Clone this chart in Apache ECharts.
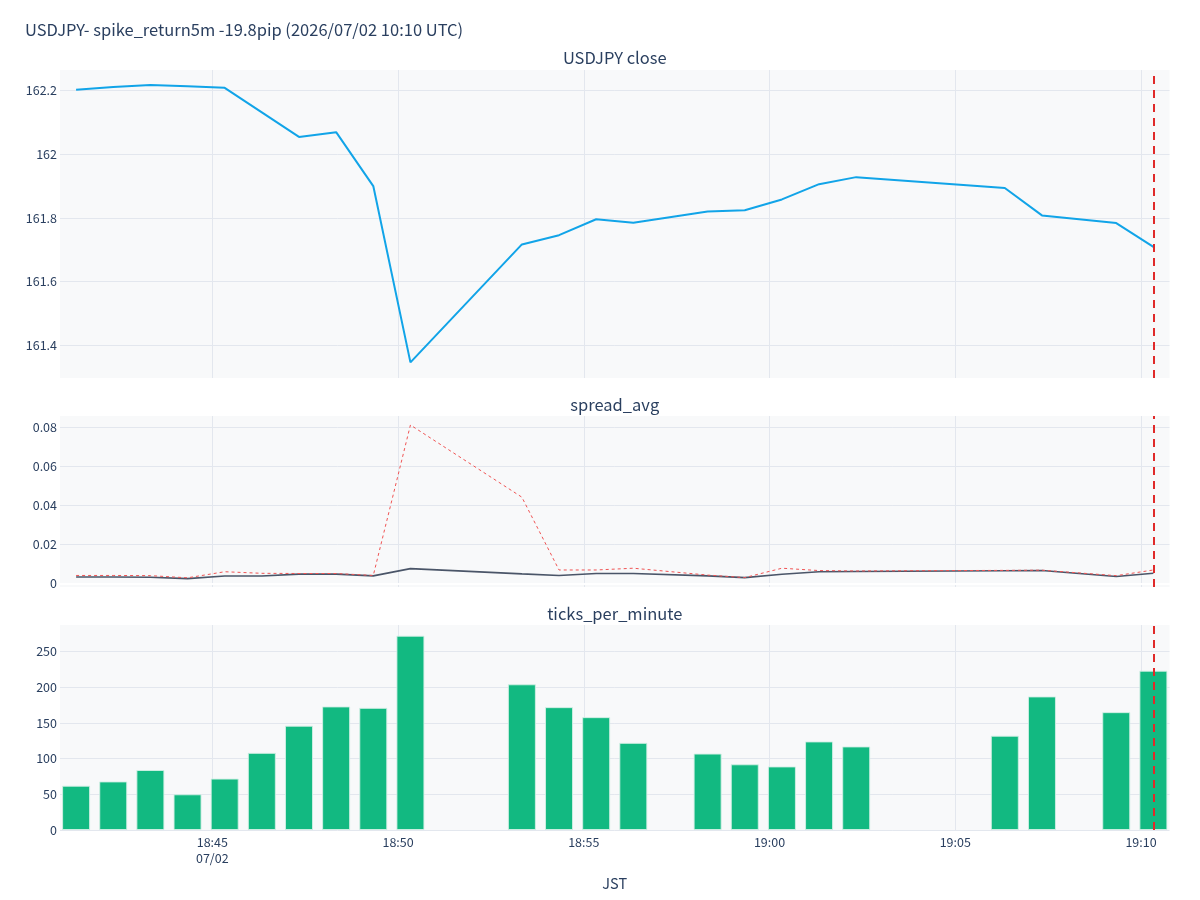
<!DOCTYPE html>
<html>
<head>
<meta charset="utf-8">
<script src="https://cdn.jsdelivr.net/npm/echarts@6/dist/echarts.min.js"></script>
<style>
html,body{margin:0;padding:0;background:#fff;}
#chart{width:1200px;height:900px;}
</style>
</head>
<body>
<div id="chart"></div>
<script>
// ---- data (JST, 2026/07/02) ----
const minutes = ['18:41','18:42','18:43','18:44','18:45','18:46','18:47','18:48','18:49','18:50',
  '18:53','18:54','18:55','18:56','18:58','18:59','19:00','19:01','19:02','19:06','19:07','19:09','19:10'];
const closeVals = [162.202,162.211,162.217,162.213,162.208,162.131,162.054,162.069,161.900,161.347,
  161.717,161.746,161.796,161.785,161.820,161.824,161.858,161.906,161.928,161.894,161.808,161.784,161.709];
const spreadAvg = [0.0032,0.0032,0.0031,0.0024,0.0037,0.0037,0.0047,0.0047,0.0038,0.0075,
  0.0048,0.0040,0.0050,0.0050,0.0038,0.0029,0.0046,0.0059,0.0060,0.0064,0.0065,0.0035,0.0051];
const spreadMax = [0.0040,0.0040,0.0039,0.0028,0.0059,0.0051,0.0050,0.0050,0.0040,0.0809,
  0.0440,0.0068,0.0068,0.0077,0.0042,0.0029,0.0077,0.0065,0.0063,0.0066,0.0067,0.0039,0.0068];
const ticksPerMin = [62,68,84,50,72,108,146,173,171,272,204,172,158,122,107,92,89,124,117,132,187,165,223];
const eventTime = '19:10';
const secOffset = 20;
const titleText = 'USDJPY- spike_return5m -19.8pip (2026/07/02 10:10 UTC)';
const subTitles = ['USDJPY close', 'spread_avg', 'ticks_per_minute'];
const dateLabel = '07/02';

function toTs(hm, sec) {
  const [h, m] = hm.split(':').map(Number);
  return new Date(2026, 6, 2, h, m, sec).getTime();
}
const times = minutes.map(m => toTs(m, secOffset));
const evTs = toTs(eventTime, secOffset);
const xMin = toTs('18:40', 54);
const xMax = toTs('19:10', 46);
const FIVE = 5 * 60 * 1000;
const firstTick = Math.ceil(xMin / FIVE) * FIVE;

// layout
const GL = 60, GR = 30.5, W = 1200;
const axisLen = W - GL - GR;
const BAR_W = 28;

const textColor = '#2a3f5f';
const gridColor = '#e3e7ee';
const plotBg = '#f8f9fa';
const font = "'Noto Sans CJK JP', 'Noto Sans', sans-serif";

function pad(n){ return (n < 10 ? '0' : '') + n; }
function fmtTime(v) {
  const d = new Date(v);
  if (d.getSeconds() !== 0 || d.getMinutes() % 5 !== 0) return '';
  let s = pad(d.getHours()) + ':' + pad(d.getMinutes());
  if (v === firstTick) s += '\n' + dateLabel;
  return s;
}
function fmtNum(v) { return String(+(+v).toFixed(4)); }

const grids = [
  {left: GL, right: GR, top: 70, height: 308},
  {left: GL, right: GR, top: 416, height: 171},
  {left: GL, right: GR, top: 625, height: 205}
].map(g => Object.assign(g, {show: true, backgroundColor: plotBg, borderWidth: 0, containLabel: false}));

function xAxisFor(i) {
  const isBottom = i === 2;
  return {
    type: 'value', gridIndex: i, min: xMin, max: xMax, scale: true,
    splitNumber: 5, minInterval: FIVE, maxInterval: FIVE,
    axisLine: i === 1 ? {show: true, onZero: true, lineStyle: {color: '#ffffff', width: 2}} : {show: false},
    axisTick: {show: false},
    axisLabel: isBottom ? {show: true, color: textColor, fontSize: 12.5, margin: 4, lineHeight: 16,
      showMinLabel: false, showMaxLabel: false, formatter: fmtTime, hideOverlap: false} : {show: false},
    splitLine: {show: true, showMinLine: false, showMaxLine: false, lineStyle: {color: gridColor, width: 1}},
    name: isBottom ? 'JST' : '', nameLocation: 'middle', nameGap: 46,
    nameTextStyle: {color: textColor, fontSize: 14.5}
  };
}
function yAxisFor(i, min, max, showMin) {
  return {
    type: 'value', gridIndex: i, min: min, max: max, splitNumber: 5,
    axisLine: {show: false}, axisTick: {show: false},
    axisLabel: {color: textColor, fontSize: 12.5, margin: 3, formatter: fmtNum,
      showMinLabel: showMin, showMaxLabel: false},
    splitLine: {show: true, showMinLine: showMin, showMaxLine: false, lineStyle: {color: gridColor, width: 1}}
  };
}

const evLine = {
  silent: true, symbol: ['none','none'], label: {show: false},
  lineStyle: {color: '#e02a2a', type: [8, 6], width: 2},
  data: [{xAxis: evTs}]
};

const titleStyle = {fontSize: 16.5, fontWeight: 'normal', color: textColor, fontFamily: font};
const option = {
  animation: false,
  backgroundColor: '#ffffff',
  textStyle: {fontFamily: font},
  title: [
    {text: titleText, left: 25, top: 21, padding: 0, textStyle: titleStyle},
    {text: subTitles[0], left: GL + axisLen / 2, top: 49, padding: 0, textAlign: 'center', textStyle: titleStyle},
    {text: subTitles[1], left: GL + axisLen / 2, top: 396, padding: 0, textAlign: 'center', textStyle: titleStyle},
    {text: subTitles[2], left: GL + axisLen / 2, top: 605, padding: 0, textAlign: 'center', textStyle: titleStyle}
  ],
  grid: grids,
  xAxis: [xAxisFor(0), xAxisFor(1), xAxisFor(2)],
  yAxis: [
    yAxisFor(0, 161.298, 162.264, false),
    yAxisFor(1, -0.0019, 0.0855, false),
    yAxisFor(2, 0, 287, true)
  ],
  series: [
    {
      name: 'close', type: 'line', xAxisIndex: 0, yAxisIndex: 0,
      data: times.map((t, i) => [t, closeVals[i]]),
      showSymbol: false, symbol: 'none',
      lineStyle: {color: '#11a4e8', width: 2}, itemStyle: {color: '#11a4e8'},
      markLine: evLine, z: 3
    },
    {
      name: 'spread_max', type: 'line', xAxisIndex: 1, yAxisIndex: 1,
      data: times.map((t, i) => [t, spreadMax[i]]),
      showSymbol: false, symbol: 'none',
      lineStyle: {color: '#f05454', width: 1, type: [3, 3]}, itemStyle: {color: '#f05454'}, z: 3
    },
    {
      name: 'spread_avg', type: 'line', xAxisIndex: 1, yAxisIndex: 1,
      data: times.map((t, i) => [t, spreadAvg[i]]),
      showSymbol: false, symbol: 'none',
      lineStyle: {color: '#4a5568', width: 1.6}, itemStyle: {color: '#4a5568'},
      markLine: evLine, z: 2
    },
    {
      name: 'ticks_per_minute', type: 'bar', xAxisIndex: 2, yAxisIndex: 2,
      data: times.map((t, i) => [t, ticksPerMin[i]]),
      barWidth: BAR_W,
      itemStyle: {color: '#12b981', borderColor: 'rgba(210,240,228,0.9)', borderWidth: 1},
      markLine: evLine, z: 2
    }
  ]
};

const chart = echarts.init(document.getElementById('chart'), null, {renderer: 'canvas'});
chart.setOption(option);
</script>
</body>
</html>
